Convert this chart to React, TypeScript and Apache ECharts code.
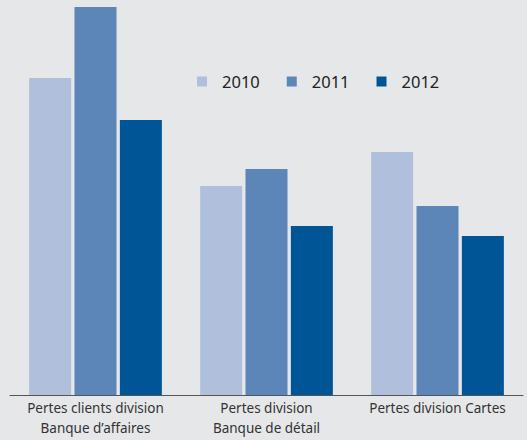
import React, { useEffect, useRef } from "react";
import * as echarts from "echarts";

const categories = [
  "Pertes clients division\nBanque d’affaires",
  "Pertes division\nBanque de détail",
  "Pertes division Cartes",
];
const seriesNames = ["2010", "2011", "2012"];
const values2010 = [317, 209, 243];
const values2011 = [388, 226, 189];
const values2012 = [275, 169, 159];
const colors = ["#b0c0dc", "#5b86b7", "#005596"];

export default function App() {
  const ref = useRef<HTMLDivElement>(null);
  useEffect(() => {
    if (!ref.current) return;
    const chart = echarts.init(ref.current, undefined, { renderer: "svg" });
    const data = [values2010, values2011, values2012];
    chart.setOption({
      animation: false,
      backgroundColor: "#e6e7e9",
      textStyle: { fontFamily: "Noto Sans" },
      legend: {
        top: 68,
        left: 192,
        itemWidth: 10,
        itemHeight: 10,
        itemGap: 27,
        icon: "rect",
        data: seriesNames,
        textStyle: {
          fontSize: 16.5,
          color: "#222",
          fontFamily: "Noto Sans",
          padding: [0, 0, 0, 10],
        },
      },
      grid: { left: 10, right: 4, top: 7, bottom: 45 },
      xAxis: {
        type: "category",
        data: categories,
        axisTick: { show: false },
        axisLine: { lineStyle: { color: "#555", width: 1 } },
        axisLabel: {
          color: "#333",
          fontSize: 13.5,
          lineHeight: 20,
          margin: 3,
          fontFamily: "Noto Sans",
          interval: 0,
        },
      },
      yAxis: {
        type: "value",
        min: 0,
        max: 388,
        show: false,
        splitLine: { show: false },
      },
      series: seriesNames.map((name, i) => ({
        name,
        type: "bar",
        data: data[i],
        barWidth: 42,
        barGap: "8%",
        itemStyle: { color: colors[i] },
      })),
    });
    return () => chart.dispose();
  }, []);
  return (
    <div
      ref={ref}
      style={{ position: "fixed", left: 0, top: 0, width: 527, height: 440 }}
    />
  );
}
